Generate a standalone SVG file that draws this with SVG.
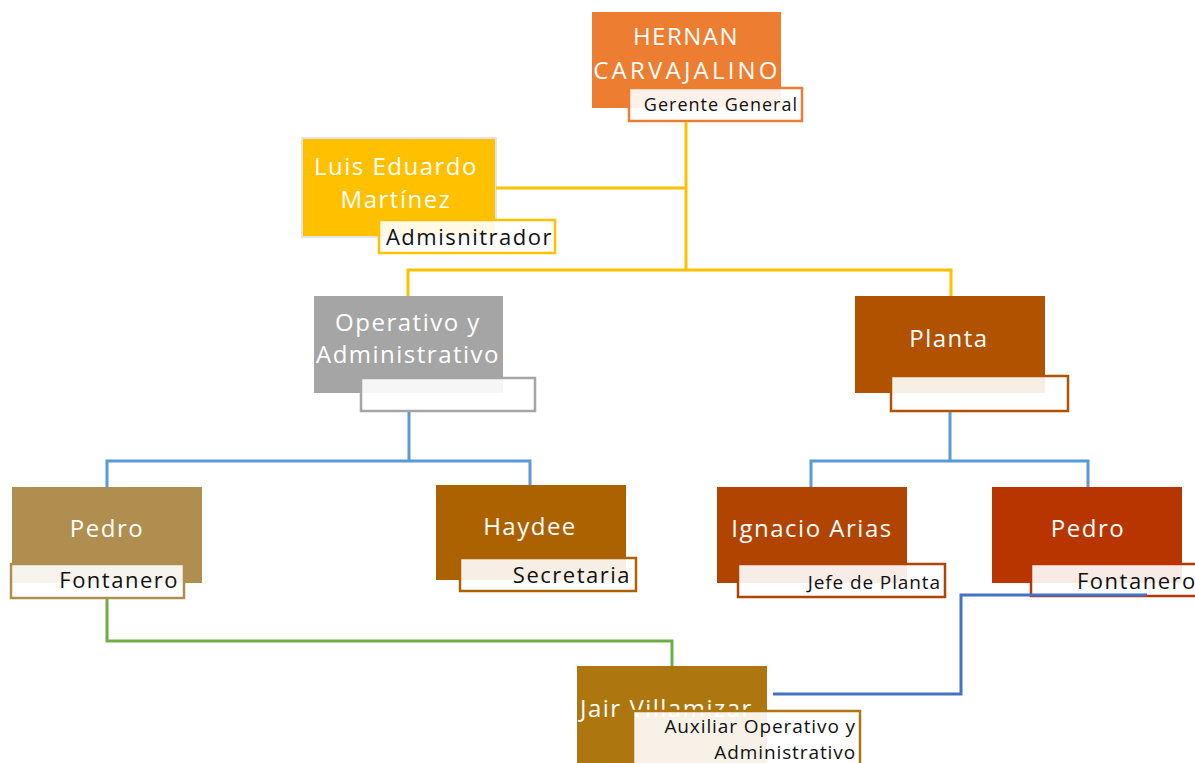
<svg xmlns="http://www.w3.org/2000/svg" width="1195" height="763" viewBox="0 0 1195 763">
<style>
.name{font-family:"Open Sans","Liberation Sans",sans-serif;font-size:24px;fill:#fff;text-anchor:middle;letter-spacing:1.5px}
.lbl{fill:#fff;fill-opacity:0.9;stroke-width:2.5}
.lt{font-family:"Open Sans","Liberation Sans",sans-serif;font-size:19px;fill:#111;text-anchor:end;letter-spacing:0.9px}
.lb{font-family:"Open Sans","Liberation Sans",sans-serif;font-size:22px;fill:#111;text-anchor:end;letter-spacing:1.5px}
.c{fill:none;stroke-width:3}
</style>
<rect width="1195" height="763" fill="#fff"/>
<g id="hernan">
<rect x="592" y="12" width="189" height="96" fill="#ED7D31"/>
<text class="name" x="686" y="45">HERNAN</text>
<text class="name" x="687" y="79" style="letter-spacing:3.2px">CARVAJALINO</text>
<rect class="lbl" x="629" y="88" width="173" height="33" stroke="#ED7D31"/>
<text class="lt" x="798" y="111" style="font-size:18px;letter-spacing:1px">Gerente General</text>
</g>
<g id="luis">
<rect x="302" y="138" width="194" height="99" fill="#FFC000" stroke="#e4e4e4" stroke-width="2"/>
<text class="name" x="396" y="175">Luis Eduardo</text>
<text class="name" x="396" y="208">Martínez</text>
<rect class="lbl" x="379" y="220" width="176" height="33" stroke="#FFC000"/>
<text class="lb" x="553" y="245">Admisnitrador</text>
</g>
<g id="operativo">
<rect x="314" y="296" width="189" height="97" fill="#A5A5A5"/>
<text class="name" x="408" y="331">Operativo y</text>
<text class="name" x="408" y="363">Administrativo</text>
<rect class="lbl" x="361" y="378" width="174" height="33" stroke="#A5A5A5"/>
</g>
<g id="planta">
<rect x="855" y="296" width="190" height="97" fill="#B05200"/>
<text class="name" x="949" y="347">Planta</text>
<rect class="lbl" x="891" y="376" width="177" height="35" stroke="#B05200"/>
</g>
<g id="pedro1">
<rect x="12" y="487" width="190" height="96" fill="#B08E50"/>
<text class="name" x="107" y="537">Pedro</text>
<rect class="lbl" x="11" y="564" width="173" height="34" stroke="#B08E50"/>
<text class="lb" x="179" y="588">Fontanero</text>
</g>
<g id="haydee">
<rect x="436" y="485" width="190" height="95" fill="#AD6200"/>
<text class="name" x="530" y="535">Haydee</text>
<rect class="lbl" x="460" y="558" width="176" height="33" stroke="#AD6200"/>
<text class="lb" x="631" y="583">Secretaria</text>
</g>
<g id="ignacio">
<rect x="717" y="487" width="190" height="96" fill="#B04400"/>
<text class="name" x="812" y="537">Ignacio Arias</text>
<rect class="lbl" x="738" y="564" width="207" height="33" stroke="#B04400"/>
<text class="lt" x="941" y="589">Jefe de Planta</text>
</g>
<g id="pedro2">
<rect x="992" y="487" width="190" height="96" fill="#B83500"/>
<text class="name" x="1088" y="537">Pedro</text>
<rect class="lbl" x="1031" y="564" width="170" height="32" stroke="#B83500"/>
<text x="1077" y="589" style="font-family:'Open Sans','Liberation Sans',sans-serif;font-size:22px;fill:#111;letter-spacing:1.5px">Fontanero</text>
</g>
<g id="jair">
<rect x="577" y="666" width="190" height="100" fill="#AD760F"/>
<text class="name" x="580" y="717" style="text-anchor:start">Jair Villamizar</text>
<rect class="lbl" x="633" y="711" width="227" height="60" stroke="#AD760F"/>
<text class="lt" x="856" y="733">Auxiliar Operativo y</text>
<text class="lt" x="856" y="759">Administrativo</text>
</g>
<g id="connectors">
<path class="c" stroke="#FFC000" d="M686 122V270M496 188H686M408 296V270H951V296"/>
<path class="c" stroke="#5B9BD5" d="M409 412V461M107 487V461H530V485M950 412V461M811 487V461H1088V487"/>
<path class="c" stroke="#70AD47" d="M107 599V641H672V666"/>
<path class="c" stroke="#4472C4" d="M773 694H961V595H1147"/>
</g>
</svg>
